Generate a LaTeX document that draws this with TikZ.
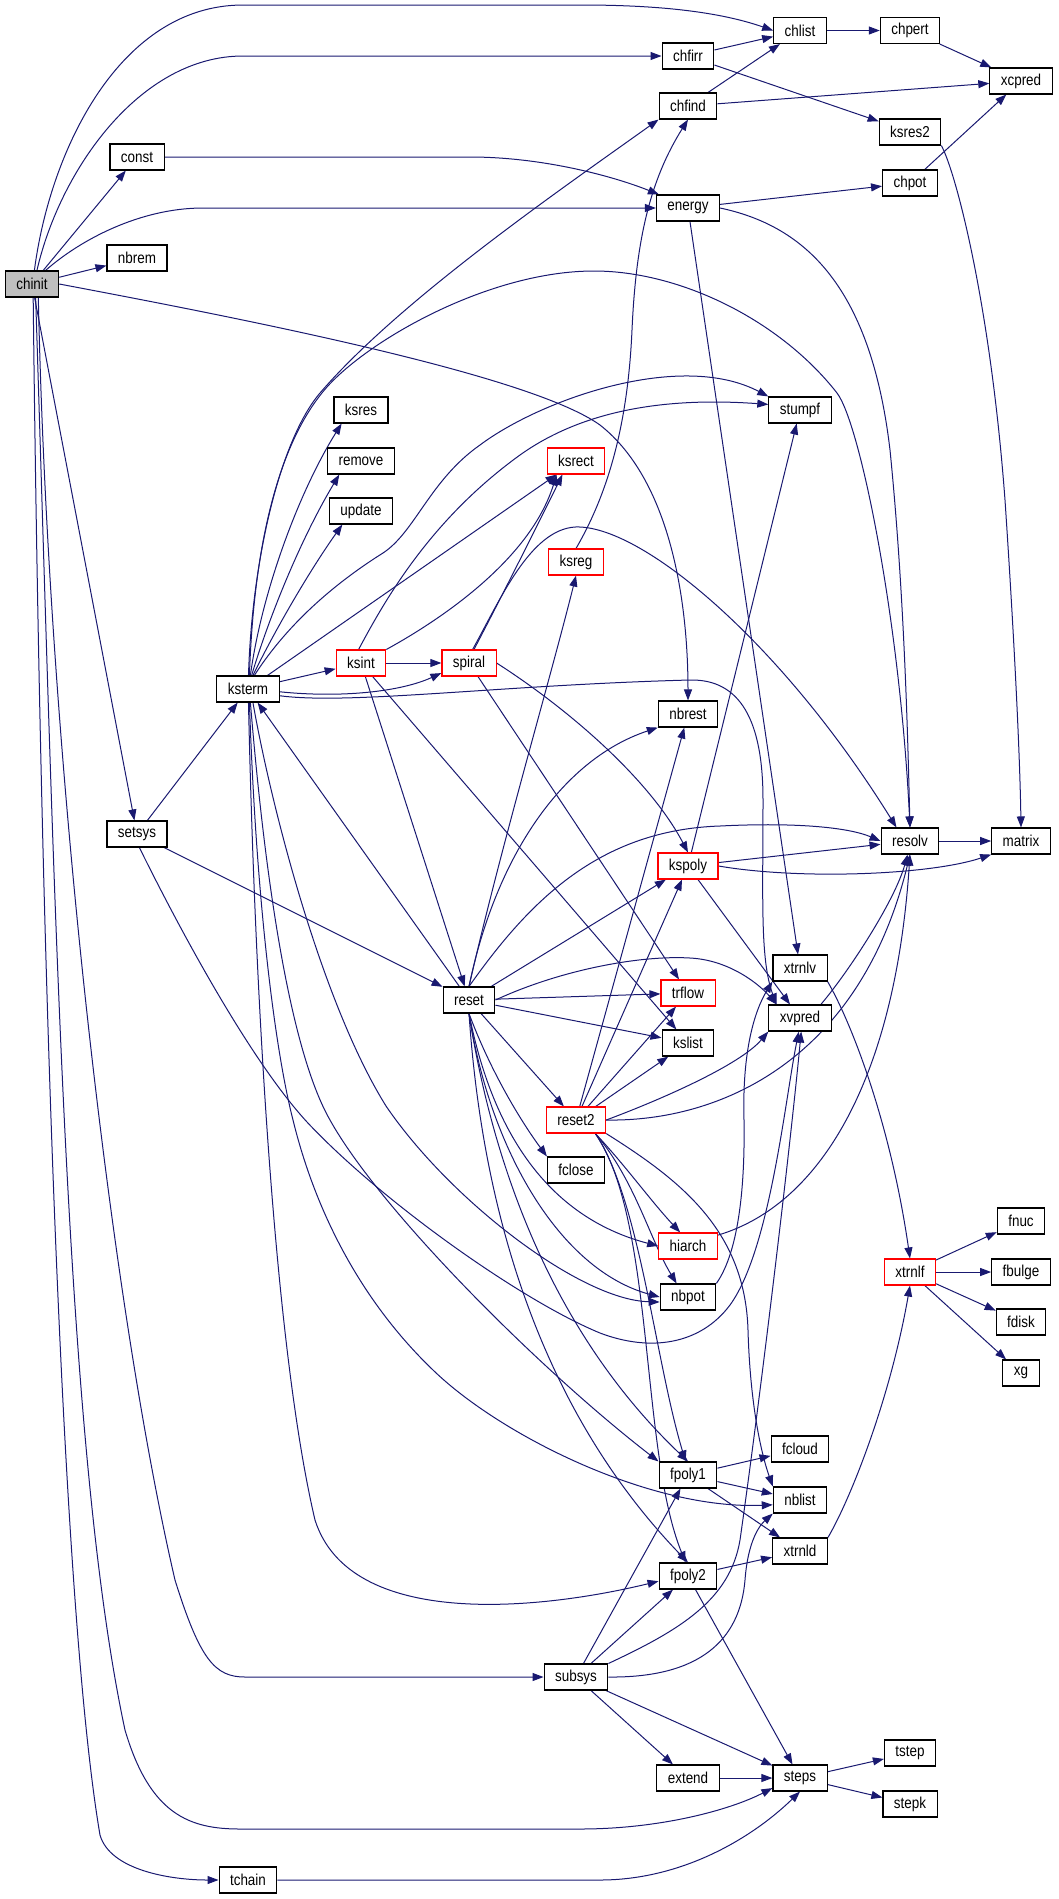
\documentclass[tikz,border=0pt]{standalone}
\usepackage{fontspec}
\newfontfamily\dotfont{Liberation Sans}[FakeStretch=0.85]
\usetikzlibrary{arrows.meta,backgrounds}
\definecolor{edgeblue}{HTML}{191970}
\definecolor{rootgray}{HTML}{BFBFBF}
\tikzset{>={Triangle[length=11pt,width=8pt]}}
\tikzset{
    func/.style={draw=black,line width=1.1pt,fill=white,font={\dotfont\fontsize{15.8}{18}\selectfont},
        inner xsep=11pt,inner ysep=0pt,minimum height=26pt},
    rootfunc/.style={func,fill=rootgray},
    redfunc/.style={func,draw=red},
    call/.style={->,draw=edgeblue,line width=1pt}
}

\begin{document}
\begin{tikzpicture}[x=1pt,y=-1pt]
    \useasboundingbox (0,0) rectangle (1059,1899);
    \node[rootfunc] (chinit) at (32,284)   {chinit};
    \node[func]     (chlist) at (800,30.5) {chlist};
    \node[func]     (chpert) at (910,30.5) {chpert};
    \node[func]     (chfirr) at (688,56)   {chfirr};
    \node[func]     (xcpred) at (1021,81)  {xcpred};
    \node[func]     (chfind) at (688,106)  {chfind};
    \node[func]     (ksres2) at (910,132)  {ksres2};
    \node[func]     (const)  at (137,157)  {const};
    \node[func]     (chpot)  at (910,183)  {chpot};
    \node[func]     (energy) at (688,208)  {energy};
    \node[func]     (nbrem)  at (137,258)  {nbrem};
    \node[func]     (ksres)  at (361,410)  {ksres};
    \node[func]     (stumpf) at (800,410)  {stumpf};
    \node[func]     (remove) at (361,461)  {remove};
    \node[redfunc]  (ksrect) at (576,461)  {ksrect};
    \node[func]     (update) at (361,511)  {update};
    \node[redfunc]  (ksreg)  at (576,562)  {ksreg};
    \node[redfunc]  (ksint)  at (361,663)  {ksint};
    \node[redfunc]  (spiral) at (469,663)  {spiral};
    \node[func]     (ksterm) at (248,689)  {ksterm};
    \node[func]     (nbrest) at (688,714)  {nbrest};
    \node[func]     (setsys) at (137,834)  {setsys};
    \node[func]     (resolv) at (910,841)  {resolv};
    \node[func]     (matrix) at (1021,841) {matrix};
    \node[redfunc]  (kspoly) at (688,866)  {kspoly};
    \node[func]     (xtrnlv) at (800,968)  {xtrnlv};
    \node[redfunc]  (trflow) at (688,993)  {trflow};
    \node[func]     (reset)  at (469,1000) {reset};
    \node[func]     (xvpred) at (800,1018) {xvpred};
    \node[func]     (kslist) at (688,1043) {kslist};
    \node[redfunc]  (reset2) at (576,1120) {reset2};
    \node[func]     (fclose) at (576,1170) {fclose};
    \node[func]     (fnuc)   at (1021,1221) {fnuc};
    \node[redfunc]  (hiarch) at (688,1246) {hiarch};
    \node[redfunc]  (xtrnlf) at (910,1272) {xtrnlf};
    \node[func]     (fbulge) at (1021,1272) {fbulge};
    \node[func]     (nbpot)  at (688,1297) {nbpot};
    \node[func]     (fdisk)  at (1021,1322) {fdisk};
    \node[func]     (xg)     at (1021,1373) {xg};
    \node[func]     (fcloud) at (800,1449) {fcloud};
    \node[func]     (fpoly1) at (688,1475) {fpoly1};
    \node[func]     (nblist) at (800,1500) {nblist};
    \node[func]     (xtrnld) at (800,1551) {xtrnld};
    \node[func]     (fpoly2) at (688,1576) {fpoly2};
    \node[func]     (subsys) at (576,1677) {subsys};
    \node[func]     (tstep)  at (910,1753) {tstep};
    \node[func]     (extend) at (688,1778) {extend};
    \node[func]     (steps)  at (800,1778) {steps};
    \node[func]     (stepk)  at (910,1804) {stepk};
    \node[func]     (tchain) at (248,1880) {tchain};

    \begin{scope}[on background layer]
    % chinit
    \draw[call] (chinit.80) .. controls (50,150) and (120,5) .. (243,5) -- (581,5) .. controls (660,5) and (720,12) .. (chlist.west);
    \draw[call] (chinit.70) .. controls (60,170) and (140,56) .. (243,56) -- (chfirr.west);
    \draw[call] (chinit) -- (const);
    \draw[call] (chinit.45) .. controls (80,240) and (140,208) .. (203,208) -- (energy.west);
    \draw[call] (chinit) -- (nbrem);
    \draw[call] (chinit.east) .. controls (250,320) and (530,375) .. (600,425) .. controls (670,480) and (688,600) .. (nbrest.north);
    \draw[call] (chinit) -- (setsys);
    \draw[call] (chinit.-65) .. controls (48,750) and (110,1300) .. (175,1580) .. controls (200,1660) and (215,1677) .. (245,1677) -- (subsys.west);
    \draw[call] (chinit.-75) .. controls (55,900) and (65,1450) .. (125,1730) .. controls (150,1815) and (190,1829) .. (240,1829) -- (580,1829) .. controls (660,1829) and (730,1810) .. (steps.200);
    \draw[call] (chinit.-85) .. controls (40,900) and (60,1600) .. (100,1835) .. controls (110,1870) and (170,1880) .. (tchain.west);
    % top row
    \draw[call] (const.east) -- (470,157) .. controls (540,157) and (610,175) .. (energy.155);
    \draw[call] (chfirr) -- (chlist);
    \draw[call] (chfirr) -- (ksres2);
    \draw[call] (chfind) -- (chlist);
    \draw[call] (chfind) -- (xcpred);
    \draw[call] (chlist) -- (chpert);
    \draw[call] (chpert) -- (xcpred);
    \draw[call] (chpot) -- (xcpred);
    \draw[call] (energy) -- (chpot);
    \draw[call] (energy) -- (xtrnlv);
    \draw[call] (energy.east) .. controls (800,225) and (870,280) .. (890,450) .. controls (905,600) and (908,750) .. (resolv.north);
    \draw[call] (ksres2.south east) .. controls (955,170) and (990,300) .. (1005,500) .. controls (1015,650) and (1020,760) .. (matrix.north);
    % setsys
    \draw[call] (setsys) -- (ksterm);
    \draw[call] (setsys) -- (reset);
    \draw[call] (setsys.-80) .. controls (180,930) and (250,1060) .. (307,1122) .. controls (380,1200) and (520,1300) .. (600,1333) .. controls (650,1352) and (700,1345) .. (730,1305) .. controls (770,1250) and (785,1100) .. (xvpred.-95);
    % ksterm
    \draw[call] (ksterm.88) .. controls (252,560) and (280,440) .. (320,393) .. controls (400,300) and (560,190) .. (chfind.south west);
    \draw[call] (ksterm.84) .. controls (254,540) and (280,440) .. (327,387) .. controls (370,339) and (490,271) .. (594,271) .. controls (680,271) and (780,320) .. (837,393) .. controls (860,423) and (900,620) .. (resolv.north);
    \draw[call] (ksterm.80) .. controls (262,590) and (300,490) .. (ksres.-145);
    \draw[call] (ksterm.75) .. controls (268,620) and (300,540) .. (remove.-148);
    \draw[call] (ksterm.70) .. controls (275,630) and (310,570) .. (update.-144);
    \draw[call] (ksterm.65) .. controls (290,620) and (340,580) .. (383,553) .. controls (415,532) and (430,480) .. (480,445) .. controls (540,400) and (680,350) .. (stumpf.north west);
    \draw[call] (ksterm) -- (ksrect);
    \draw[call] (ksterm) -- (ksint);
    \draw[call] (ksterm.-5) .. controls (340,698) and (400,692) .. (spiral.200);
    \draw[call] (ksterm.-12) .. controls (350,705) and (500,685) .. (690,680) .. controls (740,679) and (763,720) .. (763,800) .. controls (763,900) and (760,960) .. (xvpred.150);
    \draw[call] (ksterm.-88) .. controls (255,1000) and (275,1350) .. (315,1520) .. controls (350,1630) and (540,1610) .. (fpoly2.190);
    \draw[call] (ksterm.-84) .. controls (256,900) and (275,1050) .. (293,1120) .. controls (315,1210) and (360,1300) .. (433,1370) .. controls (500,1435) and (650,1510) .. (nblist.190);
    \draw[call] (ksterm.-80) .. controls (265,880) and (290,1050) .. (330,1120) .. controls (380,1210) and (540,1370) .. (fpoly1.north west);
    \draw[call] (ksterm.-70) .. controls (270,800) and (320,1000) .. (386,1106) .. controls (450,1200) and (580,1300) .. (nbpot.190);
    % ksint, spiral
    \draw[call] (ksint) -- (spiral);
    \draw[call] (ksint.100) .. controls (385,600) and (430,520) .. (520,455) .. controls (590,405) and (680,398) .. (stumpf.170);
    \draw[call] (ksint.north east) .. controls (440,620) and (530,560) .. (ksrect.-145);
    \draw[call] (ksint) -- (reset);
    \draw[call] (ksint) -- (kslist);
    \draw[call] (spiral.70) .. controls (500,600) and (540,520) .. (ksrect.-135);
    \draw[call] (spiral.75) .. controls (500,600) and (530,530) .. (575,527) .. controls (640,524) and (780,640) .. (resolv.135);
    \draw[call] (spiral) -- (trflow);
    \draw[call] (spiral.east) .. controls (570,710) and (650,780) .. (kspoly.north);
    \draw[call] (ksreg.north) .. controls (610,490) and (628,420) .. (632,330) .. controls (636,240) and (650,180) .. (chfind.south);
    % reset
    \draw[call] (reset) -- (ksterm);
    \draw[call] (reset.north) .. controls (500,850) and (550,680) .. (ksreg.south);
    \draw[call] (reset.north) .. controls (495,860) and (560,760) .. (nbrest.south west);
    \draw[call] (reset.north) .. controls (530,900) and (600,830) .. (720,826) .. controls (800,822) and (850,828) .. (resolv.west);
    \draw[call] (reset) -- (kspoly);
    \draw[call] (reset.east) .. controls (560,970) and (640,955) .. (690,958) .. controls (730,960) and (760,985) .. (xvpred.150);
    \draw[call] (reset) -- (trflow);
    \draw[call] (reset) -- (kslist);
    \draw[call] (reset) -- (reset2);
    \draw[call] (reset.south) .. controls (490,1070) and (520,1120) .. (fclose.north west);
    \draw[call] (reset.south) .. controls (490,1120) and (540,1215) .. (hiarch.west);
    \draw[call] (reset.south) .. controls (490,1150) and (560,1270) .. (nbpot.west);
    \draw[call] (reset.south) .. controls (495,1180) and (560,1340) .. (fpoly1.north);
    \draw[call] (reset.south) .. controls (485,1250) and (560,1430) .. (fpoly2.north);
    % reset2
    \draw[call] (reset2) -- (nbrest);
    \draw[call] (reset2) -- (kspoly);
    \draw[call] (reset2) -- (trflow);
    \draw[call] (reset2) -- (kslist);
    \draw[call] (reset2.east) .. controls (660,1100) and (740,1065) .. (xvpred.south west);
    \draw[call] (reset2.east) .. controls (720,1122) and (860,1060) .. (resolv.south);
    \draw[call] (reset2.-35) .. controls (625,1165) and (650,1200) .. (hiarch.120);
    \draw[call] (reset2.-35) .. controls (635,1180) and (650,1240) .. (nbpot.130);
    \draw[call] (reset2.-35) .. controls (640,1200) and (655,1360) .. (fpoly1.100);
    \draw[call] (reset2.-35) .. controls (655,1220) and (640,1450) .. (fpoly2.100);
    \draw[call] (reset2.south east) .. controls (680,1180) and (745,1230) .. (748,1330) .. controls (750,1400) and (760,1450) .. (nblist.north west);
    % right part
    \draw[call] (kspoly) -- (stumpf);
    \draw[call] (kspoly) -- (resolv);
    \draw[call] (kspoly.east) .. controls (800,880) and (930,875) .. (matrix.south west);
    \draw[call] (kspoly) -- (xvpred);
    \draw[call] (resolv) -- (matrix);
    \draw[call] (xvpred.33) .. controls (850,970) and (895,900) .. (resolv.-100);
    \draw[call] (hiarch.20) .. controls (820,1205) and (895,1080) .. (resolv.south);
    \draw[call] (nbpot.north east) .. controls (740,1250) and (745,1180) .. (744,1120) .. controls (742,1050) and (755,1010) .. (xtrnlv.south west);
    \draw[call] (xtrnlv.south east) .. controls (850,1020) and (890,1120) .. (xtrnlf.north);
    \draw[call] (xtrnld.north east) .. controls (850,1500) and (890,1400) .. (xtrnlf.south);
    \draw[call] (xtrnlf) -- (fnuc);
    \draw[call] (xtrnlf) -- (fbulge);
    \draw[call] (xtrnlf) -- (fdisk);
    \draw[call] (xtrnlf) -- (xg);
    % lower part
    \draw[call] (fpoly1) -- (fcloud);
    \draw[call] (fpoly1) -- (nblist);
    \draw[call] (fpoly1) -- (xtrnld);
    \draw[call] (fpoly2) -- (xtrnld);
    \draw[call] (fpoly2) -- (steps);
    \draw[call] (subsys) -- (fpoly1);
    \draw[call] (subsys) -- (fpoly2);
    \draw[call] (subsys.north east) .. controls (680,1630) and (730,1600) .. (740,1540) .. controls (760,1400) and (790,1150) .. (xvpred.-85);
    \draw[call] (subsys.east) .. controls (700,1678) and (740,1640) .. (745,1580) .. controls (748,1540) and (760,1525) .. (nblist.south west);
    \draw[call] (subsys) -- (extend);
    \draw[call] (subsys) -- (steps);
    \draw[call] (extend) -- (steps);
    \draw[call] (steps) -- (tstep);
    \draw[call] (steps) -- (stepk);
    \draw[call] (tchain.east) -- (600,1880) .. controls (680,1880) and (750,1840) .. (steps.south);
    \end{scope}
\end{tikzpicture}
\end{document}
